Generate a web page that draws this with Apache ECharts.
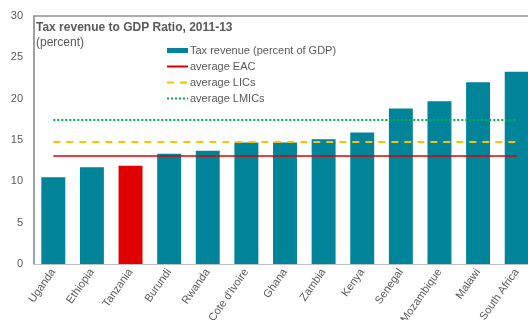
<!DOCTYPE html>
<html><head><meta charset="utf-8">
<script src="https://cdn.jsdelivr.net/npm/echarts@6/dist/echarts.min.js"></script>
<style>html,body{margin:0;padding:0;background:#fff}#c{width:528px;height:320px}</style>
</head><body><div id="c"></div>
<script>
const categories = ['Uganda','Ethiopia','Tanzania','Burundi','Rwanda',"Cote d'Ivoire",'Ghana','Zambia','Kenya','Senegal','Mozambique','Malawi','South Africa'];
const taxRevenue = [10.5, 11.7, 11.9, 13.35, 13.7, 14.7, 14.7, 15.1, 15.9, 18.8, 19.7, 22.0, 23.25];
const highlightCountry = 'Tanzania';
const avgEAC = 13.05;
const avgLICs = 14.75;
const avgLMICs = 17.5;
const yTicks = [0, 5, 10, 15, 20, 25, 30];

const FONT = 'Liberation Sans, Arial, sans-serif';
const GRAY = '#595959';
const TEAL = '#00849A';
const RED = '#E00000';

function refLine(name, value, style) {
  return {
    name: name, type: 'line', data: [], symbol: 'none',
    lineStyle: style, itemStyle: {color: style.color, opacity: 0},
    markLine: {
      silent: true, symbol: ['none','none'], label: {show: false},
      lineStyle: Object.assign({opacity: 1}, style), emphasis: {disabled: true},
      data: [[{coord: [categories[0], value]}, {coord: [categories[categories.length-1], value]}]]
    }
  };
}

const chart = echarts.init(document.getElementById('c'));
chart.setOption({
  animation: false,
  textStyle: {fontFamily: FONT},
  title: {
    text: 'Tax revenue to GDP Ratio, 2011-13',
    subtext: '(percent)',
    left: 36, top: 22, itemGap: 3, padding: 0,
    textStyle: {fontFamily: FONT, fontSize: 12, fontWeight: 'bold', color: GRAY},
    subtextStyle: {fontFamily: FONT, fontSize: 12, color: GRAY}
  },
  legend: {
    orient: 'vertical', left: 166, top: 45, padding: 0,
    itemWidth: 21, itemHeight: 5, itemGap: 5,
    textStyle: {fontFamily: FONT, fontSize: 11, color: GRAY, padding: [0,0,0,-3]},
    data: [
      {name: 'Tax revenue (percent of GDP)', icon: 'rect'},
      {name: 'average EAC', itemStyle: {opacity: 0}},
      {name: 'average LICs', itemStyle: {opacity: 0}},
      {name: 'average LMICs', itemStyle: {opacity: 0}}
    ]
  },
  grid: {left: 34, right: -8, top: 16, bottom: 56, containLabel: false, outerBoundsMode: 'none'},
  xAxis: [{
    type: 'category', data: categories,
    axisLine: {show: true, lineStyle: {color: '#c0c0c0', width: 1}},
    axisTick: {show: false},
    axisLabel: {rotate: 55, fontSize: 11, color: GRAY, margin: 6, interval: 0, fontFamily: FONT}
  }, {
    type: 'category', data: categories, position: 'top',
    axisLine: {show: true, lineStyle: {color: '#909090', width: 1.5}},
    axisTick: {show: false}, axisLabel: {show: false}
  }],
  yAxis: {
    type: 'value', min: yTicks[0], max: yTicks[yTicks.length-1], interval: 5,
    axisLine: {show: true, lineStyle: {color: '#808080', width: 1.5}},
    axisTick: {show: false},
    splitLine: {show: false},
    axisLabel: {fontSize: 11, color: GRAY, margin: 11, fontFamily: FONT}
  },
  series: [
    {
      name: 'Tax revenue (percent of GDP)', type: 'bar', barCategoryGap: '38%',
      itemStyle: {color: TEAL},
      data: taxRevenue.map((v, i) => categories[i] === highlightCountry ? {value: v, itemStyle: {color: RED}} : v)
    },
    refLine('average EAC', avgEAC, {color: RED, width: 1.5, type: 'solid'}),
    refLine('average LICs', avgLICs, {color: '#FFC000', width: 2, type: [7, 6]}),
    refLine('average LMICs', avgLMICs, {color: '#00B050', width: 2, type: [2, 2]})
  ]
});
</script></body></html>
